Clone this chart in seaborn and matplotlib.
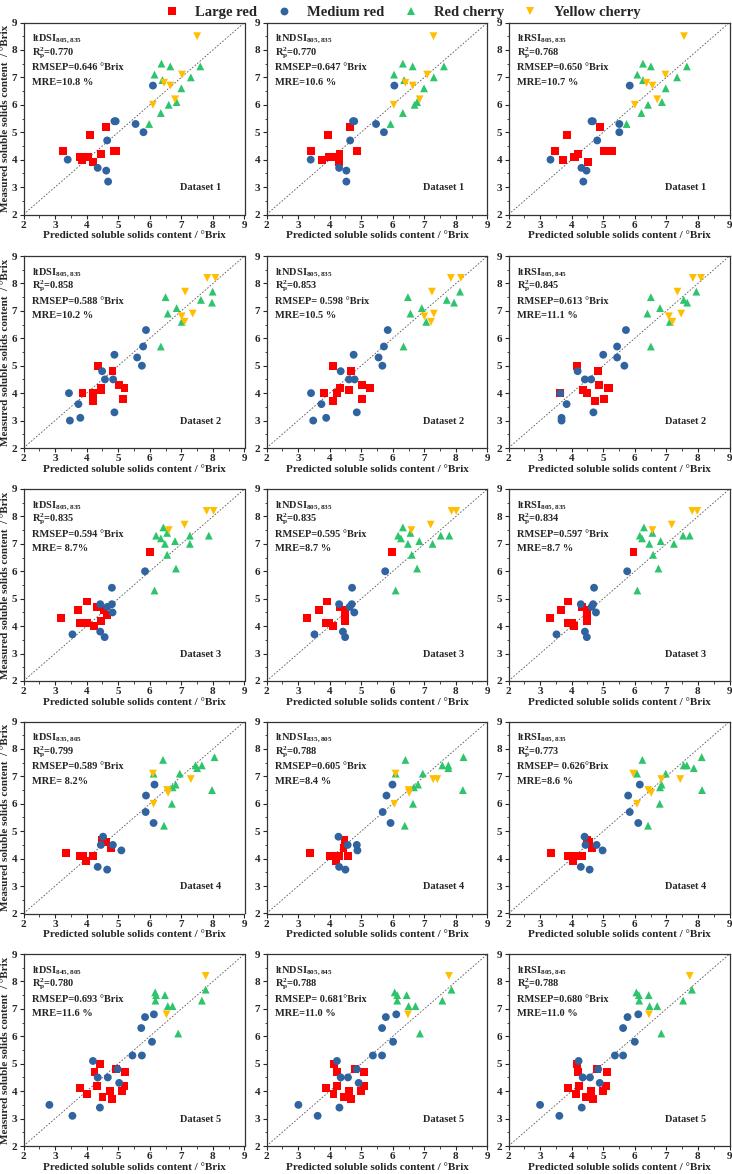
import seaborn as sns
import matplotlib.pyplot as plt
import pandas as pd

sns.set_style("ticks")
plt.rcParams['font.family'] = ['Liberation Serif', 'DejaVu Serif']
plt.rcParams['font.weight'] = 'bold'
plt.rcParams['axes.labelweight'] = 'bold'
plt.rcParams['mathtext.fontset'] = 'custom'
plt.rcParams['mathtext.rm'] = 'Liberation Serif:bold'
plt.rcParams['mathtext.bf'] = 'Liberation Serif:bold'
plt.rcParams['mathtext.it'] = 'Liberation Serif:bold'

groups = ["Large red", "Medium red", "Red cherry", "Yellow cherry"]
colors = {"Large red": "#FF0000", "Medium red": "#2F64A0",
          "Red cherry": "#2EC46C", "Yellow cherry": "#FFBE00"}
markers = {"Large red": "s", "Medium red": "o", "Red cherry": "^", "Yellow cherry": "v"}

# (predicted, measured) pairs, dataset 1
a1_large = [(3.25,4.3),(3.8,4.1),(3.85,4.0),(4.05,4.1),(4.1,4.9),(4.2,3.9),(4.45,4.2),(4.6,5.2),(4.85,4.3),(4.92,4.3)]
a1_medium = [(3.4,4.0),(4.35,3.7),(4.62,3.6),(4.68,3.2),(4.65,4.7),(4.88,5.4),(4.92,5.4),(5.55,5.3),(5.8,5.0),(6.1,6.7)]
a1_cherry = [(5.98,5.3),(6.35,5.7),(6.6,6.0),(6.85,6.1),(6.15,7.1),(6.37,7.5),(6.4,6.9),(6.65,7.4),(7.0,6.6),(7.3,7.0),(7.6,7.4)]
a1_yellow = [(7.5,8.5),(6.1,6.0),(6.45,6.8),(6.65,6.7),(6.8,6.2),(7.02,7.1)]

a2_large = [(3.4,4.3),(3.77,4.0),(3.94,4.9),(3.98,4.1),(4.07,4.1),(4.31,4.2),(4.3,3.9),(4.65,5.2),(4.88,4.3)]
a2_medium = [(3.4,4.0),(4.3,3.7),(4.53,3.6),(4.53,3.2),(4.65,4.7),(4.74,5.4),(4.78,5.4),(5.47,5.3),(5.72,5.0),(6.05,6.7)]
a2_cherry = [(5.93,5.3),(6.32,5.7),(6.69,6.0),(6.77,6.1),(6.04,7.1),(6.32,7.5),(6.36,6.9),(6.63,7.4),(6.99,6.6),(7.3,7.0),(7.62,7.4)]
a2_yellow = [(7.29,8.5),(6.03,6.0),(6.4,6.8),(6.63,6.7),(6.85,6.2),(7.09,7.1)]

a3_large = [(3.46,4.3),(3.72,4.0),(3.84,4.9),(4.08,4.1),(4.12,4.1),(4.21,4.2),(4.52,3.9),(4.89,5.2),(5.03,4.3),(5.29,4.3)]
a3_medium = [(3.33,4.0),(4.31,3.7),(4.47,3.6),(4.37,3.2),(4.81,4.7),(4.63,5.4),(4.67,5.4),(5.51,5.3),(5.51,5.0),(5.84,6.7)]
a3_cherry = [(5.74,5.3),(6.21,5.7),(6.42,6.0),(6.86,6.1),(6.08,7.1),(6.26,7.5),(6.26,6.9),(6.51,7.4),(6.98,6.6),(7.34,7.0),(7.65,7.4)]
a3_yellow = [(7.56,8.5),(6.0,6.0),(6.37,6.8),(6.56,6.7),(6.71,6.2),(6.97,7.1)]

# dataset 2
b1_large = [(3.87,4.0),(4.21,4.0),(4.21,3.7),(4.36,5.0),(4.45,4.2),(4.45,4.1),(4.82,4.8),(5.02,4.3),(5.2,4.2),(5.16,3.8)]
b1_medium = [(3.44,4.0),(3.47,3.0),(3.74,3.6),(3.8,3.1),(4.49,4.8),(4.58,4.5),(4.84,4.5),(4.88,5.4),(4.88,3.3),(5.6,5.3),(5.75,5.0),(5.79,5.7),(5.88,6.3)]
b1_cherry = [(6.35,5.7),(6.5,7.5),(6.57,6.9),(6.85,7.1),(7.01,6.6),(7.62,7.4),(7.99,7.7),(7.97,7.3)]
b1_yellow = [(7.01,6.8),(7.1,6.6),(7.12,7.7),(7.36,6.9),(7.82,8.2),(8.08,8.2)]

b2_large = [(4.11,5.0),(3.81,4.0),(4.11,3.7),(4.23,4.0),(4.33,4.2),(4.6,4.1),(4.69,4.8),(5.02,4.3),(5.28,4.2),(5.02,3.8)]
b2_medium = [(3.41,4.0),(3.48,3.0),(3.74,3.6),(3.89,3.1),(4.35,4.8),(4.61,4.5),(4.79,4.5),(4.76,5.4),(4.86,3.3),(5.55,5.3),(5.67,5.0),(5.72,5.7),(5.84,6.3)]
b2_cherry = [(6.34,5.7),(6.48,7.5),(6.56,6.9),(6.92,7.1),(7.06,6.6),(7.71,7.4),(7.94,7.3),(8.13,7.7)]
b2_yellow = [(7.0,6.8),(7.21,6.6),(7.24,7.7),(7.3,6.9),(7.84,8.2),(8.16,8.2)]

b3_large = [(4.17,5.0),(3.64,4.0),(4.36,4.1),(4.48,4.0),(4.83,4.8),(4.86,4.3),(4.74,3.7),(5.03,3.8),(5.14,4.2),(5.18,4.2)]
b3_medium = [(3.64,4.0),(3.68,3.1),(3.68,3.0),(3.84,3.6),(4.19,4.8),(4.42,4.5),(4.62,4.5),(4.69,3.3),(5.0,5.4),(5.44,5.3),(5.44,5.7),(5.67,5.0),(5.72,6.3)]
b3_cherry = [(6.51,5.7),(6.51,7.5),(6.4,6.9),(6.8,7.1),(7.11,6.6),(7.55,7.4),(7.66,7.3),(7.95,7.7)]
b3_yellow = [(7.08,6.8),(7.19,6.6),(7.35,7.7),(7.47,6.9),(7.84,8.2),(8.1,8.2)]

# dataset 3
c1_large = [(3.2,4.3),(3.72,4.6),(3.8,4.1),(4.0,4.1),(4.02,4.9),(4.22,4.0),(4.32,4.7),(4.45,4.2),(4.55,4.6),(4.65,4.4),(6.0,6.7)]
c1_medium = [(3.55,3.7),(4.43,4.8),(4.43,3.8),(4.57,3.6),(4.65,4.7),(4.8,4.8),(4.8,5.4),(4.82,4.5),(5.85,6.0)]
c1_cherry = [(6.15,5.3),(6.2,7.3),(6.35,7.2),(6.43,7.6),(6.48,7.0),(6.55,7.4),(6.55,6.6),(6.8,7.1),(6.83,6.1),(7.27,7.3),(7.27,7.0),(7.87,7.3)]
c1_yellow = [(6.6,7.5),(7.1,7.7),(7.8,8.2),(8.02,8.2)]

c2_large = [(3.29,4.3),(3.65,4.6),(3.89,4.1),(3.99,4.1),(3.91,4.9),(4.1,4.0),(4.31,4.7),(4.48,4.6),(4.48,4.4),(4.48,4.2),(5.97,6.7)]
c2_medium = [(3.52,3.7),(4.3,4.8),(4.42,3.8),(4.49,3.6),(4.63,4.7),(4.7,4.8),(4.71,5.4),(4.78,4.5),(5.76,6.0)]
c2_cherry = [(6.09,5.3),(6.17,7.3),(6.26,7.2),(6.32,7.6),(6.48,7.0),(6.56,7.4),(6.6,6.6),(6.84,7.1),(6.77,6.1),(7.26,7.0),(7.52,7.3),(7.79,7.3)]
c2_yellow = [(6.59,7.5),(7.2,7.7),(7.86,8.2),(8.01,8.2)]

c3_large = [(3.32,4.3),(3.67,4.6),(3.89,4.9),(3.89,4.1),(4.0,4.1),(4.08,4.0),(4.34,4.7),(4.49,4.6),(4.49,4.4),(4.49,4.2),(5.96,6.7)]
c3_medium = [(3.52,3.7),(4.29,4.8),(4.42,3.8),(4.48,3.6),(4.63,4.7),(4.68,4.8),(4.71,5.4),(4.77,4.5),(5.76,6.0)]
c3_cherry = [(6.08,5.3),(6.16,7.3),(6.23,7.2),(6.29,7.6),(6.46,7.0),(6.56,7.4),(6.58,6.6),(6.82,7.1),(6.75,6.1),(7.24,7.0),(7.53,7.3),(7.74,7.3)]
c3_yellow = [(6.56,7.5),(7.17,7.7),(7.82,8.2),(7.98,8.2)]

# dataset 4
d1_large = [(3.35,4.2),(3.8,4.1),(3.88,4.1),(3.98,3.9),(4.2,4.1),(4.47,4.7),(4.6,4.6),(4.78,4.4)]
d1_medium = [(4.35,3.7),(4.45,4.5),(4.52,4.8),(4.65,3.6),(4.83,4.5),(5.1,4.3),(5.87,5.7),(5.88,6.3),(6.12,5.3),(6.15,6.7)]
d1_cherry = [(6.12,7.1),(6.42,7.6),(6.45,5.2),(6.7,6.0),(6.72,6.6),(6.82,6.7),(6.95,7.1),(7.45,7.4),(7.5,7.3),(7.65,7.4),(7.97,6.5),(8.05,7.7)]
d1_yellow = [(6.1,7.1),(6.12,6.0),(6.55,6.5),(6.58,6.4),(7.3,6.9)]

d2_large = [(3.38,4.2),(4.01,4.1),(4.12,4.1),(4.2,3.9),(4.31,4.1),(4.47,4.7),(4.47,4.6),(4.44,4.4),(4.58,4.1)]
d2_medium = [(4.28,4.8),(4.3,3.7),(4.5,3.6),(4.57,4.5),(4.86,4.5),(4.88,4.3),(5.68,5.7),(5.8,6.3),(5.93,5.3),(5.99,6.7)]
d2_cherry = [(6.09,7.1),(6.4,7.6),(6.38,5.2),(6.64,6.0),(6.67,6.6),(6.8,6.7),(6.95,7.1),(7.57,7.4),(7.76,7.4),(7.76,7.3),(8.22,6.5),(8.24,7.7)]
d2_yellow = [(6.09,7.1),(6.05,6.0),(6.5,6.5),(6.52,6.4),(7.28,6.9),(7.41,6.9)]

d3_large = [(3.34,4.2),(3.88,4.1),(3.98,4.1),(4.03,3.9),(4.21,4.1),(4.34,4.1),(4.48,4.7),(4.55,4.6),(4.65,4.4)]
d3_medium = [(4.41,4.8),(4.29,3.7),(4.57,3.6),(4.44,4.5),(4.79,4.5),(4.98,4.3),(5.84,5.7),(5.79,6.3),(6.11,5.3),(6.16,6.7)]
d3_cherry = [(6.07,7.1),(6.24,7.6),(6.42,5.2),(6.79,6.0),(6.8,6.6),(6.85,6.7),(6.98,7.1),(7.55,7.4),(7.65,7.4),(7.87,7.3),(8.13,6.5),(8.12,7.7)]
d3_yellow = [(5.95,7.1),(6.07,6.0),(6.43,6.5),(6.52,6.4),(6.84,6.9),(7.44,6.9)]

# dataset 5
e1_large = [(3.78,4.1),(4.02,3.9),(4.25,4.7),(4.33,4.2),(4.42,5.0),(4.5,3.8),(4.75,4.0),(4.8,3.7),(4.93,4.8),(5.12,4.0),(5.2,4.2),(5.22,4.7)]
e1_medium = [(2.82,3.5),(3.55,3.1),(4.2,5.1),(4.35,4.5),(4.42,3.4),(4.67,4.5),(4.98,4.8),(5.03,4.3),(5.45,5.3),(5.73,6.3),(5.75,5.3),(5.85,6.7),(6.07,5.8),(6.13,6.8)]
e1_cherry = [(6.17,7.6),(6.2,7.5),(6.18,7.3),(6.48,7.5),(6.57,7.1),(6.72,7.1),(6.9,6.1),(7.65,7.3),(7.77,7.7)]
e1_yellow = [(6.53,6.8),(7.77,8.2)]

e2_large = [(3.88,4.1),(4.12,3.9),(4.15,5.0),(4.22,4.7),(4.23,4.2),(4.46,3.8),(4.62,4.0),(4.68,3.7),(4.79,4.8),(5.0,4.0),(5.08,4.2),(5.1,4.7)]
e2_medium = [(3.01,3.5),(3.62,3.1),(4.23,5.1),(4.35,4.5),(4.31,3.4),(4.58,4.5),(4.86,4.8),(4.92,4.3),(5.37,5.3),(5.66,6.3),(5.66,5.3),(5.78,6.7),(6.01,5.8),(6.11,6.8)]
e2_cherry = [(6.06,7.6),(6.14,7.5),(6.14,7.3),(6.44,7.5),(6.5,7.1),(6.72,7.1),(6.86,6.1),(7.57,7.3),(7.86,7.7)]
e2_yellow = [(6.48,6.8),(7.78,8.2)]

e3_large = [(3.88,4.1),(4.13,3.9),(4.16,5.0),(4.21,4.7),(4.23,4.2),(4.45,3.8),(4.61,4.0),(4.68,3.7),(4.79,4.8),(5.0,4.0),(5.08,4.2),(5.11,4.7)]
e3_medium = [(3.0,3.5),(3.61,3.1),(4.22,5.1),(4.35,4.5),(4.32,3.4),(4.58,4.5),(4.84,4.8),(4.89,4.3),(5.37,5.3),(5.63,6.3),(5.63,5.3),(5.77,6.7),(6.0,5.8),(6.11,6.8)]
e3_cherry = [(6.05,7.6),(6.13,7.5),(6.14,7.3),(6.44,7.5),(6.47,7.1),(6.71,7.1),(6.84,6.1),(7.53,7.3),(7.81,7.7)]
e3_yellow = [(6.45,6.8),(7.74,8.2)]

# panel annotations: index name, wavelengths, R2, RMSEP text, MRE text
index_names = ["ltDSI", "ltNDSI", "ltRSI"]
wavelengths = [["805,835", "805,835", "805,835"],
               ["805,835", "805,835", "805,845"],
               ["805,835", "805,835", "805,835"],
               ["835,805", "835,805", "805,835"],
               ["845,805", "805,845", "805,845"]]
r2_text = [["0.770", "0.770", "0.768"],
           ["0.858", "0.853", "0.845"],
           ["0.835", "0.835", "0.834"],
           ["0.799", "0.788", "0.773"],
           ["0.780", "0.788", "0.788"]]
rmsep_text = [["0.646 °Brix", "0.647 °Brix", "0.650 °Brix"],
              ["0.588 °Brix", " 0.598 °Brix", "0.613 °Brix"],
              ["0.594 °Brix", "0.595 °Brix", "0.597 °Brix"],
              ["0.589 °Brix", "0.605 °Brix", " 0.626°Brix"],
              ["0.693 °Brix", " 0.681°Brix", "0.680 °Brix"]]
mre_text = [["10.8 %", "10.6 %", "10.7 %"],
            ["10.2 %", "10.5 %", "11.1 %"],
            [" 8.7%", "8.7 %", "8.7 %"],
            [" 8.2%", "8.4 %", "8.6 %"],
            ["11.6 %", "11.0 %", "11.0 %"]]

panels = [[(a1_large, a1_medium, a1_cherry, a1_yellow), (a2_large, a2_medium, a2_cherry, a2_yellow), (a3_large, a3_medium, a3_cherry, a3_yellow)],
          [(b1_large, b1_medium, b1_cherry, b1_yellow), (b2_large, b2_medium, b2_cherry, b2_yellow), (b3_large, b3_medium, b3_cherry, b3_yellow)],
          [(c1_large, c1_medium, c1_cherry, c1_yellow), (c2_large, c2_medium, c2_cherry, c2_yellow), (c3_large, c3_medium, c3_cherry, c3_yellow)],
          [(d1_large, d1_medium, d1_cherry, d1_yellow), (d2_large, d2_medium, d2_cherry, d2_yellow), (d3_large, d3_medium, d3_cherry, d3_yellow)],
          [(e1_large, e1_medium, e1_cherry, e1_yellow), (e2_large, e2_medium, e2_cherry, e2_yellow), (e3_large, e3_medium, e3_cherry, e3_yellow)]]

W, H = 732, 1174
fig = plt.figure(figsize=(W / 100, H / 100), dpi=100)
lefts = [23.5, 266.5, 508.5]
tops = [22.5, 256, 489, 721.5, 954]
aw, ah = 221, 192

handles = labels = None
for r in range(5):
    for c in range(3):
        ax = fig.add_axes([lefts[c] / W, 1 - (tops[r] + ah) / H, aw / W, ah / H])
        rows = []
        for g, pts in zip(groups, panels[r][c]):
            for x, y in pts:
                rows.append({"pred": x, "meas": y, "group": g})
        df = pd.DataFrame(rows)
        ax.plot([2, 9], [2, 9], ls=(0, (2, 2)), color="#555555", lw=0.6, zorder=1)
        sns.scatterplot(data=df, x="pred", y="meas", hue="group", style="group",
                        hue_order=groups, style_order=groups, palette=colors,
                        markers=markers, s=32, edgecolor="none", linewidth=0,
                        ax=ax, legend=(r == 0 and c == 0), zorder=3)
        if r == 0 and c == 0:
            handles, labels = ax.get_legend_handles_labels()
            ax.get_legend().remove()
        ax.set_xlim(2, 9)
        ax.set_ylim(2, 9)
        ax.set_xticks(range(2, 10))
        ax.set_yticks(range(2, 10))
        ax.set_xticks([i + 0.5 for i in range(2, 9)], minor=True)
        ax.set_yticks([i + 0.5 for i in range(2, 9)], minor=True)
        ax.tick_params(which="major", direction="out", length=3, width=0.8, labelsize=8, pad=1.5)
        ax.tick_params(which="minor", direction="out", length=1.8, width=0.6)
        for lab in ax.get_xticklabels() + ax.get_yticklabels():
            lab.set_fontweight("bold")
        for sp in ax.spines.values():
            sp.set_linewidth(0.9)
            sp.set_color("#333333")
        ax.set_xlabel("Predicted soluble solids content / °Brix", fontsize=8,
                      fontweight="bold", labelpad=1)
        if c == 0:
            ax.set_ylabel("Measured soluble solids content  / °Brix", fontsize=8,
                          fontweight="bold", labelpad=1)
        else:
            ax.set_ylabel("")
        tx = 0.038
        ax.text(tx, 0.915, index_names[c] + r"$_{\mathbf{" + wavelengths[r][c] + "}}$",
                transform=ax.transAxes, fontsize=7.5, va="center")
        ax.text(tx, 0.84, r"R$_\mathbf{p}^\mathbf{2}$=" + r2_text[r][c],
                transform=ax.transAxes, fontsize=7.5, va="center")
        ax.text(tx, 0.765, "RMSEP=" + rmsep_text[r][c],
                transform=ax.transAxes, fontsize=7.5, va="center")
        ax.text(tx, 0.69, "MRE=" + mre_text[r][c],
                transform=ax.transAxes, fontsize=7.5, va="center")
        ax.text(0.8, 0.14, "Dataset %d" % (r + 1), transform=ax.transAxes,
                fontsize=7.5, ha="center", va="center")

fig.legend(handles, labels, loc="center", bbox_to_anchor=(0.545, 1 - 12 / H),
           ncol=4, frameon=False, fontsize=10.5, handletextpad=0.6,
           columnspacing=0.8, markerscale=1.0)

fig.savefig("out.png", dpi=100)
